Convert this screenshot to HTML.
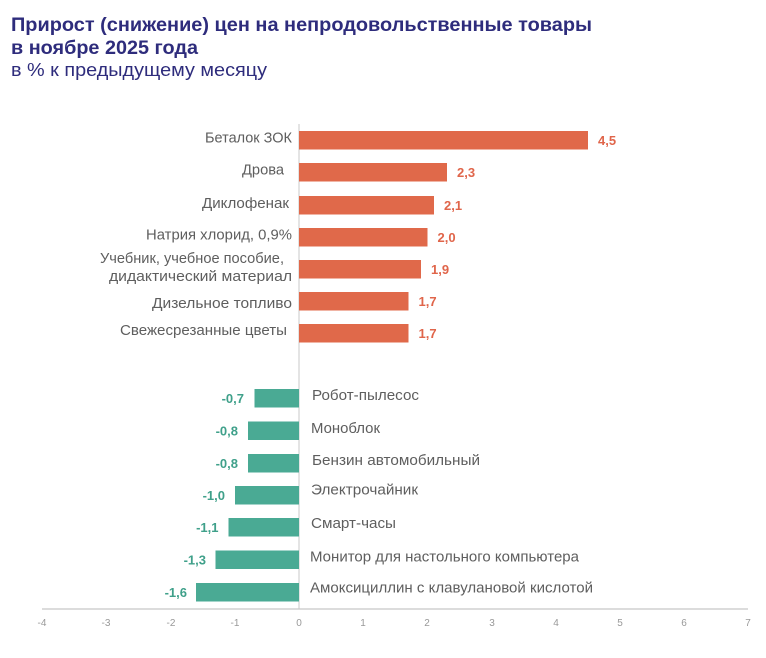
<!DOCTYPE html>
<html>
<head>
<meta charset="utf-8">
<style>
  html,body{margin:0;padding:0;background:#ffffff;}
  svg{display:block;}
  .t{font-family:"Liberation Sans","Noto Sans CJK SC",sans-serif;}
</style>
</head>
<body>
<svg width="766" height="658" viewBox="0 0 766 658" xmlns="http://www.w3.org/2000/svg">
  <rect width="766" height="658" fill="#ffffff"/>
  <!-- Title -->
  <text class="t" x="11" y="31" font-size="19" font-weight="bold" fill="#2E2C7C" textLength="581" lengthAdjust="spacingAndGlyphs">Прирост (снижение) цен на непродовольственные товары</text>
  <text class="t" x="11" y="54" font-size="19" font-weight="bold" fill="#2E2C7C" textLength="187" lengthAdjust="spacingAndGlyphs">в ноябре 2025 года</text>
  <text class="t" x="11" y="76" font-size="18.5" fill="#2E2C7C" textLength="256" lengthAdjust="spacingAndGlyphs">в % к предыдущему месяцу</text>

  <!-- zero line -->
  <line x1="299" y1="124" x2="299" y2="609" stroke="#c8c8c8" stroke-width="1"/>
  <!-- axis line -->
  <line x1="42" y1="609" x2="748" y2="609" stroke="#c8c8c8" stroke-width="1.3"/>

  <!-- tick labels -->
  <g class="t" font-size="10" fill="#999999" text-anchor="middle">
    <text x="42" y="626">-4</text>
    <text x="106" y="626">-3</text>
    <text x="171" y="626">-2</text>
    <text x="235" y="626">-1</text>
    <text x="299" y="626">0</text>
    <text x="363" y="626">1</text>
    <text x="427" y="626">2</text>
    <text x="492" y="626">3</text>
    <text x="556" y="626">4</text>
    <text x="620" y="626">5</text>
    <text x="684" y="626">6</text>
    <text x="748" y="626">7</text>
  </g>

  <!-- positive bars -->
  <g fill="#E0694A">
    <rect x="299" y="131" width="289" height="18.5"/>
    <rect x="299" y="163" width="148" height="18.5"/>
    <rect x="299" y="196" width="135" height="18.5"/>
    <rect x="299" y="228" width="128.5" height="18.5"/>
    <rect x="299" y="260" width="122" height="18.5"/>
    <rect x="299" y="292" width="109.5" height="18.5"/>
    <rect x="299" y="324" width="109.5" height="18.5"/>
  </g>
  <!-- negative bars -->
  <g fill="#4AAA94">
    <rect x="254.5" y="389" width="44.5" height="18.5"/>
    <rect x="248" y="421.5" width="51" height="18.5"/>
    <rect x="248" y="454" width="51" height="18.5"/>
    <rect x="235" y="486" width="64" height="18.5"/>
    <rect x="228.5" y="518" width="70.5" height="18.5"/>
    <rect x="215.5" y="550.5" width="83.5" height="18.5"/>
    <rect x="196" y="583" width="103" height="18.5"/>
  </g>

  <!-- positive value labels -->
  <g class="t" font-size="13" font-weight="bold" fill="#E0654A">
    <text x="598" y="145">4,5</text>
    <text x="457" y="177">2,3</text>
    <text x="444" y="210">2,1</text>
    <text x="437.5" y="242">2,0</text>
    <text x="431" y="274">1,9</text>
    <text x="418.5" y="306">1,7</text>
    <text x="418.5" y="338">1,7</text>
  </g>
  <!-- negative value labels -->
  <g class="t" font-size="13" font-weight="bold" fill="#3FA08A" text-anchor="end">
    <text x="244" y="403">-0,7</text>
    <text x="238" y="435.5">-0,8</text>
    <text x="238" y="468">-0,8</text>
    <text x="225" y="500">-1,0</text>
    <text x="218.5" y="532">-1,1</text>
    <text x="206" y="564.5">-1,3</text>
    <text x="187" y="597">-1,6</text>
  </g>

  <!-- category labels positive -->
  <g class="t" font-size="14.5" fill="#5e5e5e">
    <text x="205" y="142.5" textLength="87" lengthAdjust="spacingAndGlyphs">Беталок ЗОК</text>
    <text x="242" y="174.5" textLength="42" lengthAdjust="spacingAndGlyphs">Дрова</text>
    <text x="202" y="208" textLength="87" lengthAdjust="spacingAndGlyphs">Диклофенак</text>
    <text x="146" y="239.5" textLength="146" lengthAdjust="spacingAndGlyphs">Натрия хлорид, 0,9%</text>
    <text x="100" y="263" textLength="184" lengthAdjust="spacingAndGlyphs">Учебник, учебное пособие,</text>
    <text x="109" y="281" textLength="183" lengthAdjust="spacingAndGlyphs">дидактический материал</text>
    <text x="152" y="308" textLength="140" lengthAdjust="spacingAndGlyphs">Дизельное топливо</text>
    <text x="120" y="335" textLength="167" lengthAdjust="spacingAndGlyphs">Свежесрезанные цветы</text>
  </g>
  <!-- category labels negative -->
  <g class="t" font-size="14.5" fill="#5e5e5e">
    <text x="312" y="400" textLength="107" lengthAdjust="spacingAndGlyphs">Робот-пылесос</text>
    <text x="311" y="433" textLength="69" lengthAdjust="spacingAndGlyphs">Моноблок</text>
    <text x="312" y="465" textLength="168" lengthAdjust="spacingAndGlyphs">Бензин автомобильный</text>
    <text x="311" y="494.5" textLength="107" lengthAdjust="spacingAndGlyphs">Электрочайник</text>
    <text x="311" y="528" textLength="85" lengthAdjust="spacingAndGlyphs">Смарт-часы</text>
    <text x="310" y="561.5" textLength="269" lengthAdjust="spacingAndGlyphs">Монитор для настольного компьютера</text>
    <text x="310" y="592.5" textLength="283" lengthAdjust="spacingAndGlyphs">Амоксициллин с клавулановой кислотой</text>
  </g>
</svg>
</body>
</html>
